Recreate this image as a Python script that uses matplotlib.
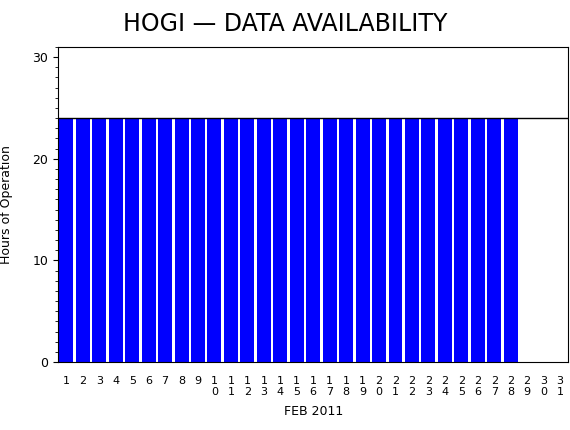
import matplotlib
matplotlib.use("Agg")
import matplotlib.pyplot as plt
from matplotlib.ticker import MultipleLocator

days = list(range(1, 32))
hours = [24]*28 + [0, 0, 0]
labels = ["\n".join(str(d)) for d in days]

fig = plt.figure(figsize=(5.7, 4.3), dpi=100)
ax = fig.add_axes([0.102, 0.158, 0.895, 0.733])
ax.bar(days[:28], hours[:28], width=0.85, color="#0000ff", edgecolor="none")
ax.axhline(24, color="black", lw=1)
ax.set_xlim(0.5, 31.5)
ax.set_ylim(0, 31)
ax.set_yticks([0, 10, 20, 30])
ax.yaxis.set_minor_locator(MultipleLocator(1))
ax.set_xticks(days)
ax.set_xticklabels(labels, fontsize=8, linespacing=1.1)
ax.tick_params(axis="x", length=0, pad=10)
ax.tick_params(axis="y", labelsize=9, direction="out")
ax.set_ylabel("Hours of Operation", fontsize=9, labelpad=14)
ax.set_xlabel("FEB 2011", fontsize=9, labelpad=6)
for s in ax.spines.values():
    s.set_linewidth(0.8)
fig.text(0.5, 0.945, "HOGI \u2014 DATA AVAILABILITY", ha="center", va="center", fontsize=17)
fig.savefig("out.png", dpi=100)
